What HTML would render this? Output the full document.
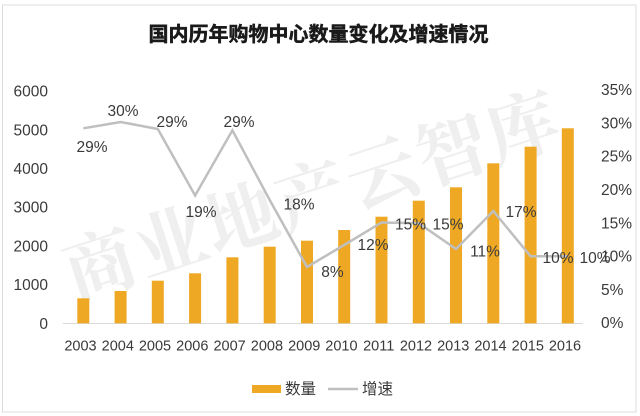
<!DOCTYPE html>
<html><head><meta charset="utf-8">
<style>
html,body{margin:0;padding:0;background:#fff;}
svg{display:block;}
text{font-family:"Liberation Sans","Noto Sans CJK SC",sans-serif;fill:#3a3a3a;}
</style></head>
<body>
<svg width="640" height="416" viewBox="0 0 640 416" xmlns="http://www.w3.org/2000/svg">
<rect x="0" y="0" width="640" height="416" fill="#fff"/>
<rect x="2.5" y="5" width="633.5" height="407" fill="#fff" stroke="#dcdcdc" stroke-width="1"/>
<!-- watermark -->
<text x="311" y="191" transform="rotate(-18 311 191)" text-anchor="middle" dominant-baseline="central" font-size="72" font-weight="bold" letter-spacing="2" style="font-family:'Noto Serif CJK SC','Noto Sans CJK SC',serif;fill:#efefef;">商业地产云智库</text>
<!-- title -->
<text x="318.5" y="41" text-anchor="middle" font-size="20" font-weight="bold" style="fill:#1a1a1a;stroke:#1a1a1a;stroke-width:0.5;font-family:'Liberation Sans','Noto Sans CJK SC',sans-serif;">国内历年购物中心数量变化及增速情况</text>
<!-- left axis -->
<g font-size="15.5" text-anchor="end">
<text x="48" y="328.8">0</text>
<text x="48" y="290.1">1000</text>
<text x="48" y="251.4">2000</text>
<text x="48" y="212.7">3000</text>
<text x="48" y="174">4000</text>
<text x="48" y="135.3">5000</text>
<text x="48" y="96.6">6000</text>
</g>
<!-- right axis -->
<g font-size="15.5" text-anchor="start">
<text x="601" y="328.2">0%</text>
<text x="601" y="294.9">5%</text>
<text x="601" y="261.6">10%</text>
<text x="601" y="228.3">15%</text>
<text x="601" y="195">20%</text>
<text x="601" y="161.7">25%</text>
<text x="601" y="128.4">30%</text>
<text x="601" y="95.1">35%</text>
</g>
<!-- axis line -->
<line x1="63" y1="323.5" x2="583" y2="323.5" stroke="#d9d9d9" stroke-width="1"/>
<!-- bars -->
<g fill="#eea823">
<rect x="77.3" y="298.3" width="12" height="25"/>
<rect x="114.6" y="291" width="12" height="32.3"/>
<rect x="151.8" y="280.7" width="12" height="42.6"/>
<rect x="189.1" y="273.3" width="12" height="50"/>
<rect x="226.4" y="257.3" width="12" height="66"/>
<rect x="263.7" y="246.7" width="12" height="76.6"/>
<rect x="301" y="240.7" width="12" height="82.6"/>
<rect x="338.2" y="230" width="12" height="93.3"/>
<rect x="375.5" y="216.7" width="12" height="106.6"/>
<rect x="412.8" y="200.7" width="12" height="122.6"/>
<rect x="450" y="187.3" width="12" height="136"/>
<rect x="487.3" y="163.3" width="12" height="160"/>
<rect x="524.6" y="146.7" width="12" height="176.6"/>
<rect x="561.8" y="128.3" width="12" height="195"/>
</g>
<!-- line -->
<polyline fill="none" stroke="#bfbfbf" stroke-width="2.5" stroke-linejoin="miter"
points="83.3,128.3 120.6,122 157.8,129 195.1,195.5 232.4,130.3 269.7,200 307,267 344.2,245 381.5,222.5 418.8,223.3 456,249 493.3,211 530.6,256.3 567.8,256.3"/>
<!-- data labels -->
<g font-size="15.5" text-anchor="middle">
<text x="92" y="152.2">29%</text>
<text x="123" y="116.2">30%</text>
<text x="172" y="127">29%</text>
<text x="201" y="217.2">19%</text>
<text x="239" y="127">29%</text>
<text x="299" y="209.5">18%</text>
<text x="332.5" y="277">8%</text>
<text x="373" y="249.8">12%</text>
<text x="410.5" y="229.7">15%</text>
<text x="448" y="229.5">15%</text>
<text x="485" y="256.5">11%</text>
<text x="521" y="217">17%</text>
<text x="558" y="263">10%</text>
<text x="595" y="263">10%</text>
</g>
<!-- years -->
<g font-size="14.5" text-anchor="middle">
<text x="80.5" y="350.5">2003</text>
<text x="117.8" y="350.5">2004</text>
<text x="155" y="350.5">2005</text>
<text x="192.3" y="350.5">2006</text>
<text x="229.6" y="350.5">2007</text>
<text x="266.9" y="350.5">2008</text>
<text x="304.2" y="350.5">2009</text>
<text x="341.4" y="350.5">2010</text>
<text x="378.7" y="350.5">2011</text>
<text x="416" y="350.5">2012</text>
<text x="453.2" y="350.5">2013</text>
<text x="490.5" y="350.5">2014</text>
<text x="527.8" y="350.5">2015</text>
<text x="565" y="350.5">2016</text>
</g>
<!-- legend -->
<rect x="252" y="385" width="29" height="8" fill="#eea823"/>
<text x="285" y="394" font-size="15.5">数量</text>
<line x1="328" y1="389" x2="358" y2="389" stroke="#bfbfbf" stroke-width="2.5"/>
<text x="362" y="394" font-size="15.5">增速</text>
</svg>
</body></html>
